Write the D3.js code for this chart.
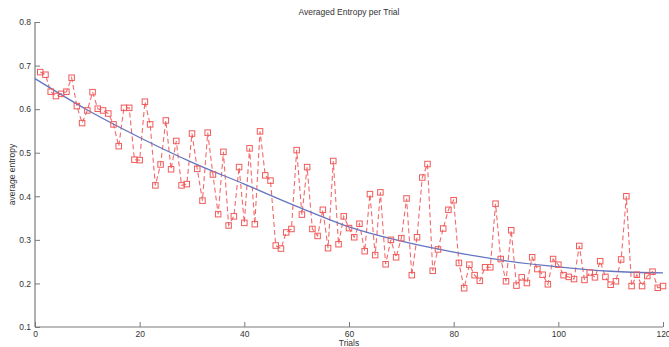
<!DOCTYPE html>
<html>
<head>
<meta charset="utf-8">
<script src="https://cdn.jsdelivr.net/npm/d3@7"></script>
<style>
  html, body { margin: 0; padding: 0; background: #fff; }
  svg { display: block; font-family: "Liberation Sans", Arial, sans-serif; }
</style>
</head>
<body>
<svg id="chart" width="669" height="347"></svg>
<script>
const title = "Averaged Entropy per Trial";
const xLabel = "Trials";
const yLabel = "average entropy";
const xTicks = [0, 20, 40, 60, 80, 100, 120];
const yTicks = [0.1, 0.2, 0.3, 0.4, 0.5, 0.6, 0.7, 0.8];

// Trials 1..120
const trials = d3.range(1, 121);
const entropy = [
  0.685, 0.679, 0.640, 0.630, 0.635, 0.640, 0.672, 0.607, 0.568, 0.597,
  0.639, 0.601, 0.597, 0.590, 0.565, 0.515, 0.603, 0.603, 0.484, 0.483,
  0.617, 0.565, 0.425, 0.473, 0.574, 0.462, 0.527, 0.425, 0.428, 0.544,
  0.463, 0.390, 0.546, 0.450, 0.359, 0.502, 0.333, 0.354, 0.467, 0.339,
  0.510, 0.336, 0.549, 0.448, 0.436, 0.287, 0.280, 0.317, 0.325, 0.506,
  0.358, 0.467, 0.325, 0.309, 0.369, 0.281, 0.481, 0.290, 0.354, 0.327,
  0.306, 0.337, 0.274, 0.405, 0.265, 0.409, 0.244, 0.300, 0.260, 0.304,
  0.395, 0.219, 0.306, 0.443, 0.474, 0.229, 0.278, 0.326, 0.369, 0.391,
  0.247, 0.189, 0.243, 0.219, 0.206, 0.237, 0.237, 0.383, 0.256, 0.205,
  0.322, 0.195, 0.214, 0.201, 0.260, 0.233, 0.220, 0.198, 0.256, 0.243,
  0.219, 0.215, 0.210, 0.286, 0.208, 0.225, 0.214, 0.251, 0.215, 0.197,
  0.205, 0.255, 0.400, 0.194, 0.220, 0.194, 0.217, 0.227, 0.190, 0.194
];

// Fitted trend curve
const fitX = [0, 10, 20, 30, 40, 50, 60, 70, 80, 90, 100, 110, 120];
const fitY = [0.670, 0.598, 0.535, 0.478, 0.428, 0.377, 0.330, 0.297, 0.272, 0.252, 0.238, 0.228, 0.224];

const svg = d3.select("#chart");
const x = d3.scaleLinear().domain([0, 120]).range([35, 663]);
const y = d3.scaleLinear().domain([0.1, 0.8]).range([327, 22]);

const axisColor = "#7a7a7a";
const textColor = "#333";

// Axes (MATLAB-like, ticks inside)
const xAxis = d3.axisBottom(x).tickValues(xTicks).tickSize(-5).tickPadding(4).tickFormat(d3.format("d"));
const yAxis = d3.axisLeft(y).tickValues(yTicks).tickSize(-5).tickPadding(4).tickFormat(d3.format(".1f"));

const gx = svg.append("g").attr("transform", `translate(0,${y(0.1)})`).call(xAxis);
const gy = svg.append("g").attr("transform", `translate(${x(0)},0)`).call(yAxis);
[gx, gy].forEach(g => {
  g.select(".domain").attr("stroke", axisColor).attr("stroke-width", 1.2);
  g.selectAll(".tick line").attr("stroke", axisColor).attr("stroke-width", 1);
  g.selectAll(".tick text").attr("fill", textColor).attr("font-size", 8.5)
    .attr("font-family", "'Liberation Sans Narrow', 'Liberation Sans', Arial, sans-serif");
});
gx.select(".domain").attr("d", `M${x(0)},0H${x(120)}`);
gy.select(".domain").attr("d", `M0,${y(0.1)}V${y(0.8)}`);

// Data line (dashed red)
const pts = trials.map((t, i) => [t, entropy[i]]);
const line = d3.line().x(d => x(d[0])).y(d => y(d[1]));
svg.append("path")
  .datum(pts)
  .attr("d", line)
  .attr("fill", "none")
  .attr("stroke", "#f26a6a")
  .attr("stroke-width", 1.1)
  .attr("stroke-dasharray", "5,3");

// Fit curve (blue)
const fitPts = fitX.map((t, i) => [t, fitY[i]]);
svg.append("path")
  .datum(fitPts)
  .attr("d", d3.line().x(d => x(d[0])).y(d => y(d[1])).curve(d3.curveMonotoneX))
  .attr("fill", "none")
  .attr("stroke", "#6275c0")
  .attr("stroke-width", 1.3);

// Square markers
const ms = 5.5;
svg.append("g").selectAll("rect")
  .data(pts)
  .join("rect")
  .attr("x", d => x(d[0]) - ms / 2)
  .attr("y", d => y(d[1]) - ms / 2)
  .attr("width", ms)
  .attr("height", ms)
  .attr("fill", "none")
  .attr("stroke", "#f05a5a")
  .attr("stroke-width", 1);

// Title and labels
svg.append("text")
  .attr("x", 349).attr("y", 15)
  .attr("text-anchor", "middle")
  .attr("font-size", 8.5)
  .attr("font-family", "'Liberation Sans Narrow', 'Liberation Sans', Arial, sans-serif")
  .attr("fill", textColor)
  .text(title);

svg.append("text")
  .attr("x", 349).attr("y", 346)
  .attr("text-anchor", "middle")
  .attr("font-size", 8.5)
  .attr("font-family", "'Liberation Sans Narrow', 'Liberation Sans', Arial, sans-serif")
  .attr("fill", textColor)
  .text(xLabel);

svg.append("text")
  .attr("transform", `translate(15,${(y(0.1) + y(0.8)) / 2}) rotate(-90)`)
  .attr("text-anchor", "middle")
  .attr("font-size", 8.5)
  .attr("font-family", "'Liberation Sans Narrow', 'Liberation Sans', Arial, sans-serif")
  .attr("fill", textColor)
  .text(yLabel);
</script>
</body>
</html>
